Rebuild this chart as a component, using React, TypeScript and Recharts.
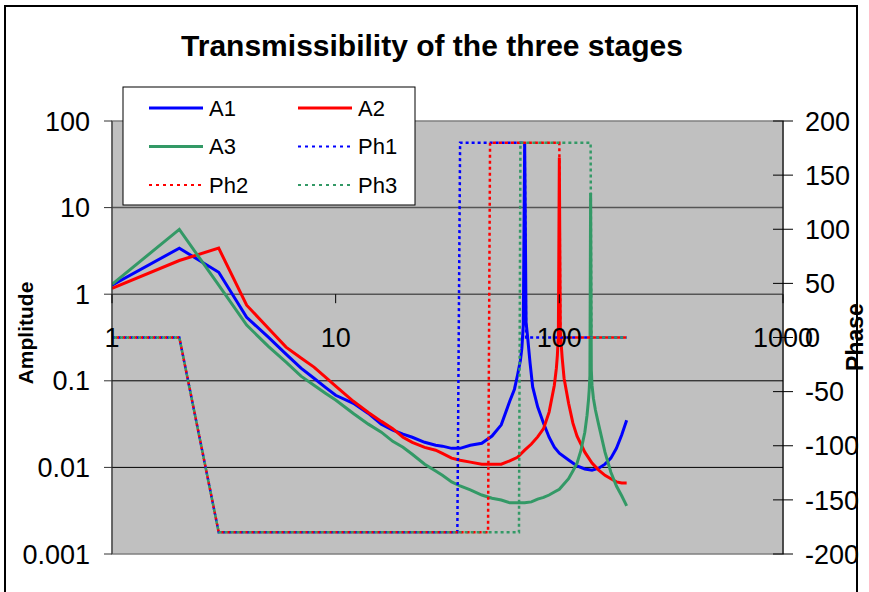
import React from 'react';
import { ComposedChart, Line, XAxis, YAxis, CartesianGrid, ReferenceLine, ReferenceArea } from 'recharts';

// amplitude curves (frequency, transmissibility)
const freqA1 = [1, 2, 3, 4, 5, 6, 7, 8, 9, 10, 12, 14, 16, 18, 20, 22, 25, 28, 30, 33, 36, 40, 45, 50, 55, 60, 63, 65, 67, 68, 69, 70, 71, 72, 74, 76, 80, 85, 90, 95, 100, 110, 120, 130, 140, 150, 160, 170, 180, 190, 200];
const ampA1 = [1.27, 3.4, 1.79, 0.54, 0.32, 0.203, 0.14, 0.107, 0.084, 0.068, 0.055, 0.042, 0.0316, 0.027, 0.0242, 0.0223, 0.0195, 0.018, 0.0176, 0.0166, 0.0166, 0.018, 0.019, 0.023, 0.031, 0.058, 0.08, 0.116, 0.173, 0.238, 0.44, 57, 0.475, 0.336, 0.16, 0.085, 0.05, 0.0324, 0.0223, 0.0171, 0.0146, 0.0122, 0.0104, 0.0096, 0.0093, 0.0098, 0.0109, 0.0128, 0.0166, 0.0237, 0.035];

const freqA2 = [1, 2, 3, 4, 5, 6, 7, 8, 9, 10, 12, 14, 16, 18, 20, 22, 25, 28, 30, 33, 36, 40, 45, 50, 55, 60, 65, 70, 75, 80, 85, 90, 95, 97, 98, 99, 100, 101, 102, 103, 105, 110, 115, 120, 125, 130, 140, 150, 160, 170, 180, 190, 200];
const ampA2 = [1.17, 2.45, 3.4, 0.746, 0.405, 0.245, 0.183, 0.144, 0.11, 0.087, 0.058, 0.043, 0.034, 0.028, 0.0223, 0.0195, 0.017, 0.0158, 0.0145, 0.0128, 0.0121, 0.0115, 0.0109, 0.0109, 0.0109, 0.0119, 0.0131, 0.0158, 0.0186, 0.0225, 0.028, 0.0435, 0.089, 0.14, 0.197, 0.336, 38, 0.38, 0.258, 0.183, 0.107, 0.055, 0.0324, 0.0229, 0.0185, 0.015, 0.0112, 0.0093, 0.0081, 0.0074, 0.0068, 0.0066, 0.0066];

const freqA3 = [1, 2, 3, 4, 5, 6, 7, 8, 9, 10, 12, 14, 16, 18, 20, 22, 25, 28, 30, 33, 36, 40, 45, 50, 55, 60, 65, 70, 75, 80, 85, 90, 95, 100, 110, 115, 120, 125, 130, 133, 135, 136, 137, 138, 139, 140, 142, 145, 150, 160, 170, 180, 190, 200];
const ampA3 = [1.3, 5.6, 1.27, 0.44, 0.25, 0.164, 0.113, 0.089, 0.072, 0.06, 0.042, 0.0316, 0.0255, 0.02, 0.0171, 0.0142, 0.0109, 0.0091, 0.0081, 0.0068, 0.0061, 0.0055, 0.0048, 0.0044, 0.0042, 0.0039, 0.0039, 0.0039, 0.004, 0.0043, 0.0045, 0.0048, 0.0052, 0.0056, 0.0074, 0.0091, 0.0112, 0.0158, 0.0255, 0.04, 0.06, 0.078, 0.116, 14.7, 0.133, 0.089, 0.063, 0.046, 0.031, 0.015, 0.0088, 0.0061, 0.0047, 0.0036];

// phase curves (degrees)
const freqPh1 = [1, 2, 3, 35, 36, 70, 71, 200];
const freqPh2 = [1, 2, 3, 48, 49, 100, 101, 200];
const freqPh3 = [1, 2, 3, 66, 67, 138, 139, 200];
const phaseVals = [0, 0, -180, -180, 180, 180, 0, 0];

const xTicks = [1, 10, 100, 1000];
const ampTicks = [0.001, 0.01, 0.1, 1, 10, 100];
const phaseTicks = [-200, -150, -100, -50, 0, 50, 100, 150, 200];

const series = [
  { name: 'A1', color: '#0000FF', dashed: false },
  { name: 'A2', color: '#FF0000', dashed: false },
  { name: 'A3', color: '#339966', dashed: false },
  { name: 'Ph1', color: '#0000FF', dashed: true },
  { name: 'Ph2', color: '#FF0000', dashed: true },
  { name: 'Ph3', color: '#339966', dashed: true },
];

const pts = (fs: number[], vs: number[]) => fs.map((f, i) => ({ f, v: vs[i] }));

const W = 869;
const H = 592;
const TOP = 121;
const BOTTOM = 38;
const plotH = H - TOP - BOTTOM;
// x axis crosses the amplitude axis at 1, its labels sit at mid-height
const axisY = TOP + plotH * (Math.log10(100) - Math.log10(1)) / (Math.log10(100) - Math.log10(0.001));
const labelY = TOP + plotH / 2;

const FONT = '"Liberation Sans", Arial, sans-serif';

const XTick = ({ x, payload }: any) => (
  <g>
    <line x1={x} x2={x} y1={axisY} y2={axisY + 9} stroke="#000" />
    <text x={x} y={labelY} dy="0.36em" textAnchor="middle" fontSize={27} fill="#000" fontFamily={FONT}>
      {payload.value}
    </text>
  </g>
);

const PhaseTick = ({ x, y, payload }: any) => (
  <g>
    <line x1={x - 32} x2={x - 22} y1={y} y2={y} stroke="#000" />
    <text x={x} y={y} dy="0.36em" textAnchor="start" fontSize={27} fill="#000" fontFamily={FONT}>
      {payload.value}
    </text>
  </g>
);

export default function App() {
  return (
    <div style={{ position: 'absolute', left: 0, top: 0, width: W, height: H, overflow: 'hidden', background: '#fff', fontFamily: FONT }}>
      <ComposedChart width={W} height={H} margin={{ top: TOP, right: 0, bottom: 0, left: 0 }}>
        <CartesianGrid fill="#C0C0C0" horizontal={false} vertical={false} yAxisId="amp" />
        <XAxis
          dataKey="f"
          type="number"
          scale="log"
          domain={[1, 1000]}
          ticks={xTicks}
          allowDataOverflow
          height={BOTTOM}
          axisLine={false}
          tickLine={false}
          tick={<XTick />}
        />
        <YAxis
          yAxisId="amp"
          type="number"
          scale="log"
          domain={[0.001, 100]}
          ticks={ampTicks}
          allowDataOverflow
          width={112}
          tickSize={8}
          tickMargin={14}
          stroke="#333"
          tick={{ fontSize: 27, fill: '#000', fontFamily: FONT }}
          tickFormatter={(v: number) => String(v)}
        />
        <YAxis
          yAxisId="ph"
          orientation="right"
          type="number"
          domain={[-200, 200]}
          ticks={phaseTicks}
          allowDataOverflow
          width={86}
          tickSize={10}
          tickMargin={12}
          stroke="#000"
          tick={<PhaseTick />}
        />
        <ReferenceLine yAxisId="amp" y={10} stroke="#555" strokeWidth={1.5} />
        <ReferenceLine yAxisId="amp" y={0.1} stroke="#000" />
        <ReferenceLine yAxisId="amp" y={0.01} stroke="#000" />
        <ReferenceLine yAxisId="amp" y={1} stroke="#555" strokeWidth={1.5} />
        <ReferenceArea yAxisId="amp" x1={1} x2={1000} y1={0.001} y2={100} fill="none" stroke="#808080" strokeWidth={1.5} />
        <Line yAxisId="amp" data={pts(freqA1, ampA1)} dataKey="v" name="A1" stroke="#0000FF" strokeWidth={3} dot={false} activeDot={false} isAnimationActive={false} />
        <Line yAxisId="amp" data={pts(freqA2, ampA2)} dataKey="v" name="A2" stroke="#FF0000" strokeWidth={3} dot={false} activeDot={false} isAnimationActive={false} />
        <Line yAxisId="amp" data={pts(freqA3, ampA3)} dataKey="v" name="A3" stroke="#339966" strokeWidth={3} dot={false} activeDot={false} isAnimationActive={false} />
        <Line yAxisId="ph" data={pts(freqPh1, phaseVals)} dataKey="v" name="Ph1" stroke="#0000FF" strokeWidth={2.5} strokeDasharray="3 3" strokeDashoffset={0} dot={false} activeDot={false} isAnimationActive={false} />
        <Line yAxisId="ph" data={pts(freqPh2, phaseVals)} dataKey="v" name="Ph2" stroke="#FF0000" strokeWidth={2.5} strokeDasharray="3 3" strokeDashoffset={2} dot={false} activeDot={false} isAnimationActive={false} />
        <Line yAxisId="ph" data={pts(freqPh3, phaseVals)} dataKey="v" name="Ph3" stroke="#339966" strokeWidth={2.5} strokeDasharray="3 3" strokeDashoffset={4} dot={false} activeDot={false} isAnimationActive={false} />
      </ComposedChart>

      <svg width={W} height={H} style={{ position: 'absolute', left: 0, top: 0, pointerEvents: 'none' }}>
        <rect x={5} y={6} width={852} height={600} fill="none" stroke="#000" strokeWidth={2} />
        <text x={432} y={56} textAnchor="middle" fontSize={30} fontWeight="bold" fontFamily={FONT}>
          Transmissibility of the three stages
        </text>
        <text transform="translate(25,333) rotate(-90)" dy="0.36em" textAnchor="middle" fontSize={21} fontWeight="bold" fontFamily={FONT}>
          Amplitude
        </text>
        <text transform="translate(855,337) rotate(-90)" dy="0.36em" textAnchor="middle" fontSize={23} fontWeight="bold" fontFamily={FONT}>
          Phase
        </text>
        <rect x={123} y={87} width={292} height={118} fill="#fff" stroke="#000" strokeWidth={1} />
        {series.map((s, i) => {
          const col = i % 2;
          const row = Math.floor(i / 2);
          const lx = col === 0 ? 149 : 298;
          const ly = 108 + row * 38.5;
          return (
            <g key={s.name}>
              <line x1={lx} x2={lx + 54} y1={ly} y2={ly} stroke={s.color} strokeWidth={s.dashed ? 2 : 3} strokeDasharray={s.dashed ? '3 4' : undefined} />
              <text x={lx + 60} y={ly} dy="0.36em" fontSize={22} fontFamily={FONT} fill="#000">
                {s.name}
              </text>
            </g>
          );
        })}
      </svg>
    </div>
  );
}
